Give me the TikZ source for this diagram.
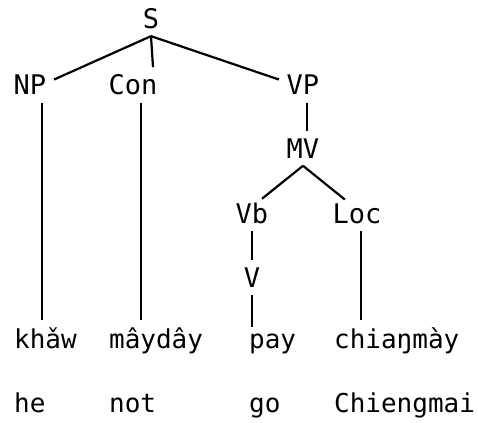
\documentclass[tikz,border=0pt]{standalone}
\usepackage{fontspec}
\setmainfont{DejaVu Sans Mono}
\usepackage{tikz}
\usetikzlibrary{positioning}

\begin{document}
\begin{tikzpicture}[x=0.5pt,y=-0.5pt,
		cat/.style={anchor=base,font=\fontsize{13.5}{15}\selectfont},
		word/.style={anchor=base west,inner xsep=0pt,font=\fontsize{13}{15}\selectfont},
		every path/.style={line width=1.1pt}]
		\useasboundingbox (0,0) rectangle (478,423);

		\node[cat] (S) at (151,28) {S};
		\node[cat] (NP) at (30,95) {NP};
		\node[cat] (Con) at (133,95) {Con};
		\node[cat] (VP) at (303,95) {VP};
		\node[cat] (MV) at (303,158) {MV};
		\node[cat] (Vb) at (252,223) {Vb};
		\node[cat] (Loc) at (357,223) {Loc};
		\node[cat] (V) at (252,287) {V};

		\node[word] (khaw) at (13,349) {khǎw};
		\node[word] (mayday) at (108,349) {mâydây};
		\node[word] (pay) at (248,349) {pay};
		\node[word] (chiangmay) at (333,349) {chiaŋmày};

		\node[word] (he) at (13,413) {he};
		\node[word] (not) at (108,413) {not};
		\node[word] (go) at (248,413) {go};
		\node[word] (chiengmai) at (333,413) {Chiengmai};

		\draw (S.south) -- ([yshift=-6]NP.north east);
		\draw (S.south) -- ([xshift=10]Con.north);
		\draw (S.south) -- ([yshift=-6]VP.north west);
		\draw ([xshift=2]VP.south) -- ([xshift=2]VP.south |- MV.north);
		\draw (MV.south) -- ([xshift=-7,yshift=-2]Vb.north east);
		\draw (MV.south) -- ([xshift=10,yshift=-2]Loc.north west);
		\draw (Vb) -- (V);
		\draw ([xshift=6]NP.south) -- ([xshift=6]NP.south |- khaw.north);
		\draw ([xshift=4]Con.south) -- ([xshift=4]Con.south |- mayday.north);
		\draw (V.south) -- (V.south |- pay.north);
		\draw ([xshift=2]Loc.south) -- ([xshift=2]Loc.south |- chiangmay.north);
\end{tikzpicture}
\end{document}
